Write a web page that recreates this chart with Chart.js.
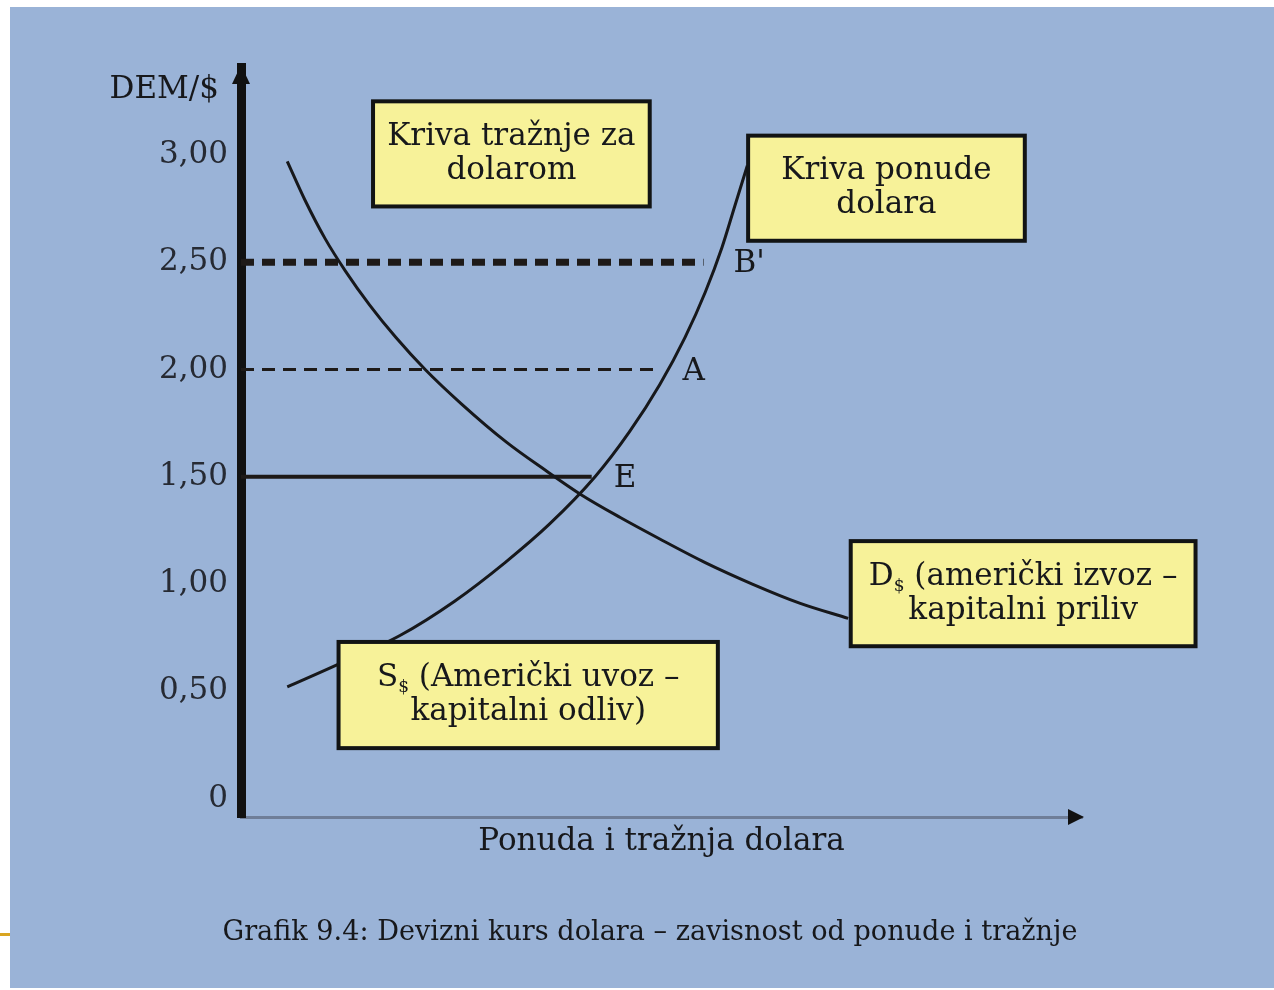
<!DOCTYPE html>
<html>
<head>
<meta charset="utf-8">
<title>Devizni kurs dolara</title>
<script src="https://cdn.jsdelivr.net/npm/chart.js@4.4.0/dist/chart.umd.min.js"></script>
<style>
	html, body { margin: 0; padding: 0; background: #fff; }
	#panel { position: absolute; left: 10px; top: 7px; width: 1264px; height: 981px; background: #9ab3d7; }
	#mark { position: absolute; left: 0; top: 933px; width: 10px; height: 3px; background: #d9a521; }
	#wrap { position: absolute; left: 0; top: 0; width: 1274px; height: 990px; }
</style>
</head>
<body>
<div id="panel"></div>
<div id="mark"></div>
<div id="wrap"><canvas id="fx-chart" width="1274" height="990"></canvas></div>
<script>
// y axis ticks (DEM per dollar)
var tickValues = [0, 0.5, 1, 1.5, 2, 2.5, 3];
var tickLabels = ['0', '0,50', '1,00', '1,50', '2,00', '2,50', '3,00'];

// supply curve S$ (quantity, rate)
var supplyX = [5.5, 11.8, 18.9, 25.4, 31.4, 36.7, 42.1, 46.2, 49.8, 52.8, 55.2, 57.2, 58.7, 60.2];
var supplyY = [0.52, 0.63, 0.76, 0.92, 1.10, 1.28, 1.50, 1.71, 1.93, 2.15, 2.36, 2.57, 2.76, 2.95];

// demand curve D$
var demandX = [5.5, 7.6, 10.0, 12.4, 15.3, 18.4, 21.9, 26.2, 31.6, 36.2, 40.3, 45.1, 49.8, 55.2, 60.8, 66.5, 72.2];
var demandY = [2.97, 2.79, 2.61, 2.46, 2.30, 2.15, 2.00, 1.84, 1.66, 1.53, 1.42, 1.31, 1.21, 1.10, 1.00, 0.91, 0.84];

// exchange rate levels and where the dashed lines stop
var levelValues = [1.5, 2.0, 2.5];
var levelEnds = [41.7, 49.4, 55.0];
var levelNames = ['E', 'A', "B'"];

var yTitle = 'DEM/$';
var xTitle = 'Ponuda i tražnja dolara';
var caption = 'Grafik 9.4: Devizni kurs dolara – zavisnost od ponude i tražnje';

var boxLines = [
	['Kriva tražnje za', 'dolarom'],
	['Kriva ponude', 'dolara'],
	['D_$ (američki izvoz –', 'kapitalni priliv'],
	['S_$ (Američki uvoz –', 'kapitalni odliv)']
];

// box corners in axis units
var boxes = [
	{x0: 15.7, x1: 48.6, y0: 3.25, y1: 2.76},
	{x0: 60.3, x1: 93.2, y0: 3.09, y1: 2.6},
	{x0: 72.5, x1: 113.5, y0: 1.2, y1: 0.71},
	{x0: 11.6, x1: 56.7, y0: 0.73, y1: 0.235}
];

var serif = '"DejaVu Serif", "Liberation Serif", serif';
var ink = '#17181b';

function toPoints(xs, ys) {
	return xs.map(function (x, i) { return {x: x, y: ys[i]}; });
}

var levelStyles = [
	{width: 4, dash: []},
	{width: 3, dash: [13, 8]},
	{width: 7, dash: [13, 8]}
];

var datasets = [
	{
		label: 'S$',
		data: toPoints(supplyX, supplyY),
		borderColor: ink,
		borderWidth: 3,
		pointRadius: 0,
		cubicInterpolationMode: 'monotone'
	},
	{
		label: 'D$',
		data: toPoints(demandX, demandY),
		borderColor: ink,
		borderWidth: 3,
		pointRadius: 0,
		cubicInterpolationMode: 'monotone'
	}
];

levelValues.forEach(function (v, i) {
	datasets.push({
		label: levelNames[i],
		data: [{x: 0, y: v}, {x: levelEnds[i], y: v}],
		borderColor: '#1e1a18',
		borderWidth: levelStyles[i].width,
		borderDash: levelStyles[i].dash,
		borderCapStyle: 'butt',
		pointRadius: 0
	});
});

function drawLine(ctx, text, cx, cy) {
	// "X_$" means X with a subscript $
	var parts = text.split('_');
	if (parts.length === 1) {
		ctx.textAlign = 'center';
		ctx.fillText(text, cx, cy);
		return;
	}
	var big = '31px ' + serif, small = '17px ' + serif;
	var base = parts[0], sub = parts[1].charAt(0), rest = parts[1].slice(1);
	ctx.font = big;
	var w1 = ctx.measureText(base).width, w3 = ctx.measureText(rest).width;
	ctx.font = small;
	var w2 = ctx.measureText(sub).width;
	var x = cx - (w1 + w2 + w3) / 2;
	ctx.textAlign = 'left';
	ctx.font = big;
	ctx.fillText(base, x, cy);
	ctx.font = small;
	ctx.fillText(sub, x + w1, cy + 10);
	ctx.font = big;
	ctx.fillText(rest, x + w1 + w2, cy);
}

var extras = {
	id: 'extras',
	afterDatasetsDraw: function (chart) {
		var ctx = chart.ctx, xs = chart.scales.x, ys = chart.scales.y, area = chart.chartArea;
		ctx.save();

		// arrow heads
		ctx.fillStyle = '#111';
		ctx.beginPath();
		ctx.moveTo(area.left, area.top - 2);
		ctx.lineTo(area.left - 9, area.top + 17);
		ctx.lineTo(area.left + 9, area.top + 17);
		ctx.closePath();
		ctx.fill();
		ctx.beginPath();
		ctx.moveTo(area.right + 2, area.bottom);
		ctx.lineTo(area.right - 14, area.bottom - 8);
		ctx.lineTo(area.right - 14, area.bottom + 8);
		ctx.closePath();
		ctx.fill();

		// point names next to the supply curve
		ctx.fillStyle = ink;
		ctx.font = '31px ' + serif;
		ctx.textAlign = 'left';
		ctx.textBaseline = 'middle';
		levelValues.forEach(function (v, i) {
			ctx.fillText(levelNames[i], xs.getPixelForValue(levelEnds[i]) + 22 + 4 * i, ys.getPixelForValue(v) + 2);
		});

		// yellow label boxes
		boxes.forEach(function (b, i) {
			var l = xs.getPixelForValue(b.x0), r = xs.getPixelForValue(b.x1);
			var t = ys.getPixelForValue(b.y0), btm = ys.getPixelForValue(b.y1);
			ctx.fillStyle = '#f7f299';
			ctx.fillRect(l, t, r - l, btm - t);
			ctx.lineWidth = 4;
			ctx.strokeStyle = '#121414';
			ctx.strokeRect(l, t, r - l, btm - t);
			ctx.fillStyle = ink;
			ctx.font = '31px ' + serif;
			var cx = (l + r) / 2, cy = (t + btm) / 2;
			drawLine(ctx, boxLines[i][0], cx, cy - 17);
			ctx.font = '31px ' + serif;
			drawLine(ctx, boxLines[i][1], cx, cy + 17);
		});

		// axis name and caption
		ctx.fillStyle = ink;
		ctx.font = '31px ' + serif;
		ctx.textAlign = 'right';
		ctx.fillText(yTitle, area.left - 22, area.top + 23);
		ctx.font = '28px ' + serif;
		ctx.textAlign = 'center';
		ctx.fillText(caption, 650, 933, 855);
		ctx.restore();
	}
};

new Chart('fx-chart', {
	type: 'line',
	data: {datasets: datasets},
	plugins: [extras],
	options: {
		responsive: false,
		animation: false,
		devicePixelRatio: 1,
		layout: {padding: {top: 67, right: 192, bottom: 0, left: 0}},
		plugins: {legend: {display: false}, tooltip: {enabled: false}},
		scales: {
			x: {
				type: 'linear',
				min: 0,
				max: 100,
				grid: {display: false},
				border: {display: true, color: '#6f7e98', width: 3},
				ticks: {display: false},
				title: {
					display: true,
					text: xTitle,
					color: ink,
					font: {family: serif, size: 31},
					padding: {top: 0, bottom: 129}
				},
				afterFit: function (s) { s.height = 173; }
			},
			y: {
				type: 'linear',
				min: -0.086,
				max: 3.41,
				grid: {display: false, drawTicks: false},
				border: {display: true, color: '#111', width: 9},
				afterBuildTicks: function (s) {
					s.ticks = tickValues.map(function (v) { return {value: v}; });
				},
				ticks: {
					color: '#262a33',
					padding: 13,
					font: {family: serif, size: 31},
					callback: function (v) {
						var i = tickValues.indexOf(v);
						return i < 0 ? '' : tickLabels[i];
					}
				},
				afterFit: function (s) { s.width = 241; }
			}
		}
	}
});
</script>
</body>
</html>
